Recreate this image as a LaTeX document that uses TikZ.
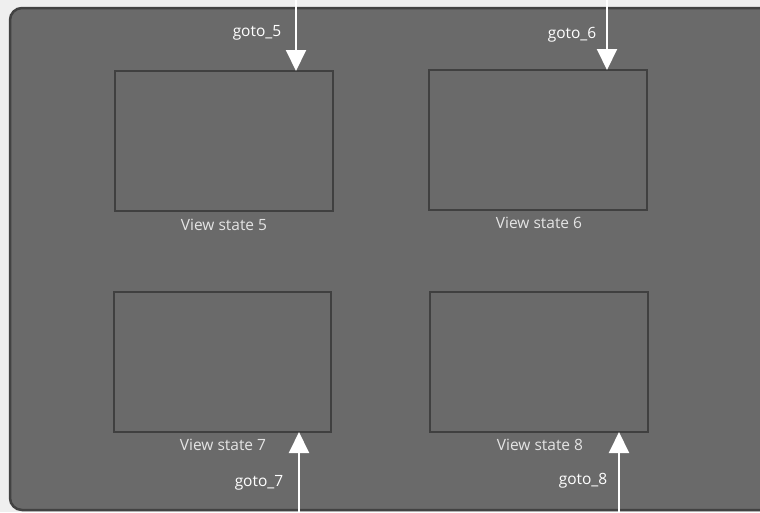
\documentclass[tikz,border=0pt]{standalone}
\usepackage{fontspec}
\setmainfont{Open Sans}
\usetikzlibrary{arrows.meta}
\definecolor{outerbg}{HTML}{EFEFEF}
\definecolor{panel}{HTML}{6A6A6A}
\definecolor{panelborder}{HTML}{424242}
\definecolor{boxborder}{HTML}{404040}
\definecolor{labeltext}{HTML}{E4E4E4}
\tikzset{
  statebox/.style={draw=boxborder, line width=2pt, inner sep=0pt},
  statelabel/.style={text=labeltext, font=\fontsize{15.5}{18}\selectfont, inner sep=0pt},
  gotolabel/.style={text=white, font=\fontsize{15.5}{18}\selectfont, inner sep=0pt},
  gotoarrow/.style={draw=white, line width=2pt, -{Triangle[width=20pt,length=21pt]}, shorten >=0pt}
}
\begin{document}
\begin{tikzpicture}[x=1pt,y=-1pt]
\useasboundingbox (0,0) rectangle (760,512);
\fill[outerbg] (0,0) rectangle (760,512);
\begin{scope}
\clip (0,0) rectangle (760,512);
\draw[panelborder, fill=panel, line width=2.5pt, rounded corners=12pt] (10,8) rectangle (775,510);
\end{scope}
% boxes
\node[statebox, minimum width=218pt, minimum height=140pt] (b5) at (224,141) {};
\node[statebox, minimum width=218pt, minimum height=140pt] (b6) at (538,140) {};
\node[statebox, minimum width=217pt, minimum height=140pt] (b7) at (222.5,362) {};
\node[statebox, minimum width=218pt, minimum height=140pt] (b8) at (539,362) {};
% labels
\node[statelabel] (l5) at (224,225) {View state 5};
\node[statelabel] (l6) at (539,223) {View state 6};
\node[statelabel] (l7) at (223,445) {View state 7};
\node[statelabel] (l8) at (540,445) {View state 8};
% arrow ends
\coordinate (s5) at (296,0);
\coordinate (t5) at (296,71);
\coordinate (s6) at (607,0);
\coordinate (t6) at (607,70);
\coordinate (s7) at (299,512);
\coordinate (t7) at (299,432);
\coordinate (s8) at (619,512);
\coordinate (t8) at (619,432);
\draw[gotoarrow] (s5) -- (t5);
\draw[gotoarrow] (s6) -- (t6);
\draw[gotoarrow] (s7) -- (t7);
\draw[gotoarrow] (s8) -- (t8);
\node[gotolabel] (g5) at (257,33) {goto\_5};
\node[gotolabel] (g6) at (572,35) {goto\_6};
\node[gotolabel] (g7) at (259,483) {goto\_7};
\node[gotolabel] (g8) at (583,481) {goto\_8};
\end{tikzpicture}
\end{document}
